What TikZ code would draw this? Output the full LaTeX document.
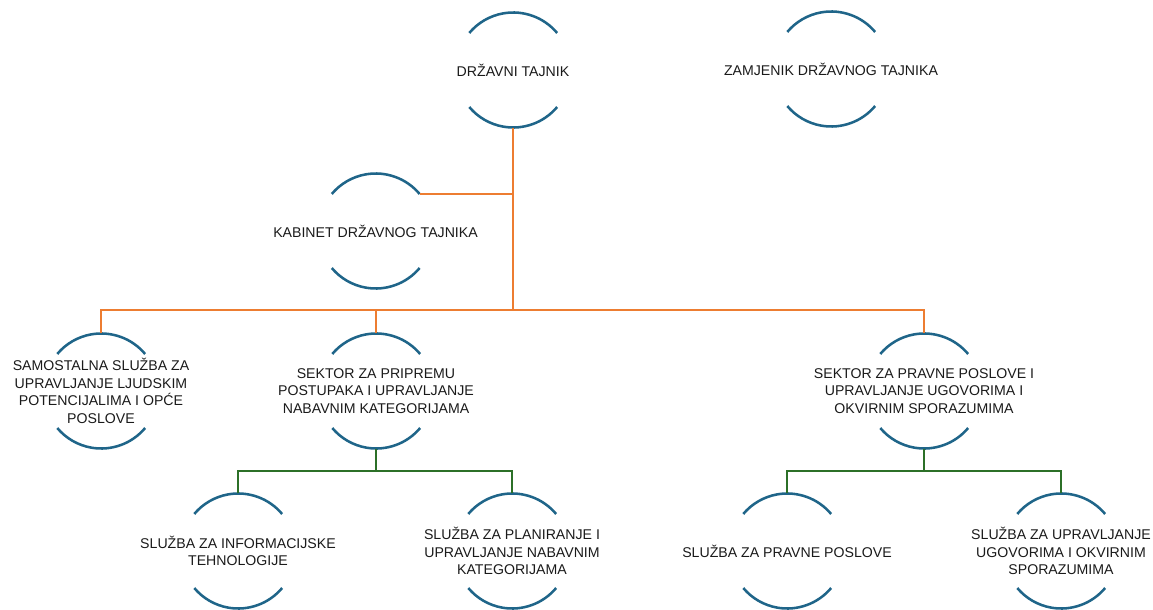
\documentclass[tikz,border=0pt]{standalone}
\usepackage{fontspec}
\setmainfont{Liberation Sans}
\begin{document}
\begin{tikzpicture}[x=0.75pt,y=0.75pt,yscale=-1,xscale=1,
  unit/.style={circle, minimum size=86pt, inner sep=0pt},
  arcline/.style={draw={rgb,255:red,31;green,101;blue,137}, line width=1.9pt},
  orgline/.style={draw={rgb,255:red,237;green,125;blue,49}, line width=1.9pt},
  grnline/.style={draw={rgb,255:red,44;green,112;blue,40}, line width=1.9pt},
  lbl/.style={font=\fontsize{10.6}{13.2}\selectfont, align=center, inner sep=0.75pt, text={rgb,255:red,26;green,26;blue,26}}]
  \useasboundingbox (0,0) rectangle (1153,610);
  %Shape: Circle units
  \node[unit] (dt) at (513,70) {};
  \node[unit] (zam) at (831,69) {};
  \node[unit] (kab) at (375.5,231) {};
  \node[unit] (sam) at (101,391) {};
  \node[unit] (pri) at (376,391) {};
  \node[unit] (pra) at (924,391) {};
  \node[unit] (inf) at (238,551) {};
  \node[unit] (pla) at (512,551) {};
  \node[unit] (ppo) at (787,551) {};
  \node[unit] (ugo) at (1061,551) {};
  %Arcs above and below
  \foreach \n in {dt,zam,kab,sam,pri,pra,inf,pla,ppo,ugo}
    \draw[arcline] (\n.40) arc[start angle=-40, end angle=-140, radius=43pt]
                   (\n.320) arc[start angle=40, end angle=140, radius=43pt];
  %Bus coordinates
  \coordinate (hub) at (513,310);
  \coordinate (pribus) at (376,471);
  \coordinate (prabus) at (924,471);
  %Straight Lines
  \draw[orgline] (dt.south) -- (hub);
  \draw[orgline] (kab.40) -- (kab.40 -| hub);
  \draw[orgline] (sam.north) |- (hub) -| (pra.north);
  \draw[orgline] (pri.north) -- (pri.north |- hub);
  %Straight Lines
  \draw[grnline] (pri.south) -- (pribus);
  \draw[grnline] (inf.north) |- (pribus) -| (pla.north);
  \draw[grnline] (pra.south) -- (prabus);
  \draw[grnline] (ppo.north) |- (prabus) -| (ugo.north);

  % Text Node
  \node[lbl] (dt-t) at (dt) {DRŽAVNI TAJNIK};
  % Text Node
  \node[lbl] (zam-t) at (zam) {ZAMJENIK DRŽAVNOG TAJNIKA};
  % Text Node
  \node[lbl] (kab-t) at (kab) {KABINET DRŽAVNOG TAJNIKA};
  % Text Node
  \node[lbl] (sam-t) at (sam) {SAMOSTALNA SLUŽBA ZA\\UPRAVLJANJE LJUDSKIM\\POTENCIJALIMA I OPĆE\\POSLOVE};
  % Text Node
  \node[lbl] (pri-t) at (pri) {SEKTOR ZA PRIPREMU\\POSTUPAKA I UPRAVLJANJE\\NABAVNIM KATEGORIJAMA};
  % Text Node
  \node[lbl] (pra-t) at (pra) {SEKTOR ZA PRAVNE POSLOVE I\\UPRAVLJANJE UGOVORIMA I\\OKVIRNIM SPORAZUMIMA};
  % Text Node
  \node[lbl] (inf-t) at (inf) {SLUŽBA ZA INFORMACIJSKE\\TEHNOLOGIJE};
  % Text Node
  \node[lbl] (pla-t) at (pla) {SLUŽBA ZA PLANIRANJE I\\UPRAVLJANJE NABAVNIM\\KATEGORIJAMA};
  % Text Node
  \node[lbl] (ppo-t) at (ppo) {SLUŽBA ZA PRAVNE POSLOVE};
  % Text Node
  \node[lbl] (ugo-t) at (ugo) {SLUŽBA ZA UPRAVLJANJE\\UGOVORIMA I OKVIRNIM\\SPORAZUMIMA};
\end{tikzpicture}
\end{document}
